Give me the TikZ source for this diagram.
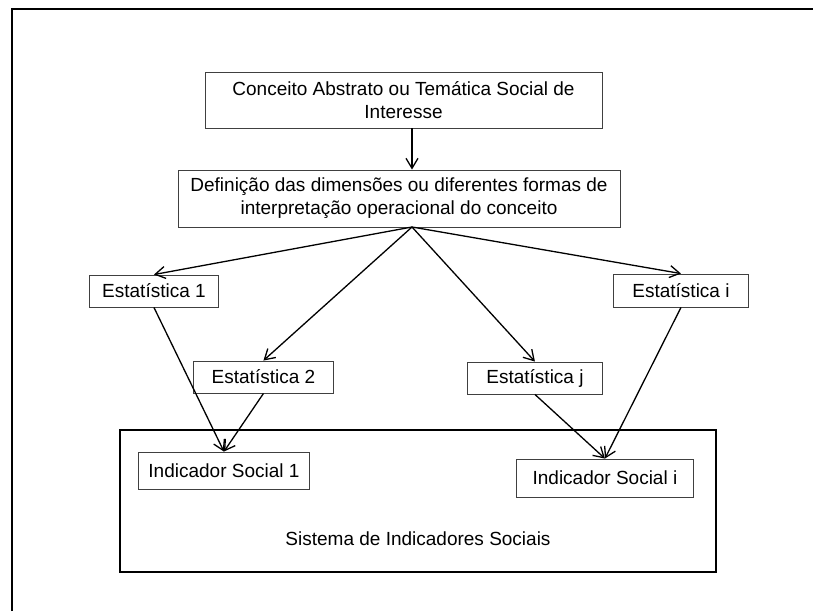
\documentclass[tikz,border=0pt]{standalone}
\usepackage{fontspec}
\setmainfont{Liberation Sans}
\usepackage{tikz}
\usetikzlibrary{arrows.meta}
\tikzset{
  box/.style={draw=black!75, line width=0.9pt, inner xsep=6pt, inner ysep=0pt},
  statbox/.style={box, anchor=west},
  link/.style={-{Straight Barb[length=10pt,width=12pt]}, line width=1.3pt}
}

\begin{document}
\begin{tikzpicture}[x=1pt, y=-1pt, font=\fontsize{19}{23}\selectfont]
\useasboundingbox (0,0) rectangle (813,611);
\draw[line width=2pt] (12,611) -- (12,9) -- (813,9);

%0
\node[box, align=center, minimum width=397pt, minimum height=56pt] (conceito) at (403.5,100)
  {Conceito Abstrato ou Temática Social de\\Interesse};
\node[box, align=center, minimum width=442pt, minimum height=57pt] (definicao) at (399,198.5)
  {Definição das dimensões ou diferentes formas de\\interpretação operacional do conceito};
\coordinate (hub) at (412,227);

%1
\node[statbox, minimum width=129pt, minimum height=32pt] (est1) at (89,291) {Estatística 1};
\node[statbox, minimum width=140pt, minimum height=32pt] (est2) at (193,377) {Estatística 2};
\node[statbox, minimum width=135pt, minimum height=32pt] (estj) at (467,378) {Estatística j};
\node[statbox, minimum width=135pt, minimum height=33pt] (esti) at (613,290.5) {Estatística i};

%2
\node[draw, line width=1.6pt, minimum width=596pt, minimum height=142pt] (sistema) at (418,501) {};
\node (sistematexto) at (418,539) {Sistema de Indicadores Sociais};
\node[statbox, minimum width=171pt, minimum height=37pt] (ind1) at (138,470.5) {Indicador Social 1};
\node[statbox, minimum width=177pt, minimum height=38pt] (indi) at (516,478) {Indicador Social i};

\draw[link] (conceito.south -| hub) -- (definicao.north -| hub);
\draw[link] (hub) -- (est1.north);
\draw[link] (hub) -- (est2.north);
\draw[link] (hub) -- (estj.north);
\draw[link] (hub) -- (esti.north);
\draw[link] (est1.south) -- (ind1.north);
\draw[link] (est2.south) -- (ind1.north);
\draw[link] (estj.south) -- (indi.north);
\draw[link] (esti.south) -- (indi.north);

\end{tikzpicture}
\end{document}
